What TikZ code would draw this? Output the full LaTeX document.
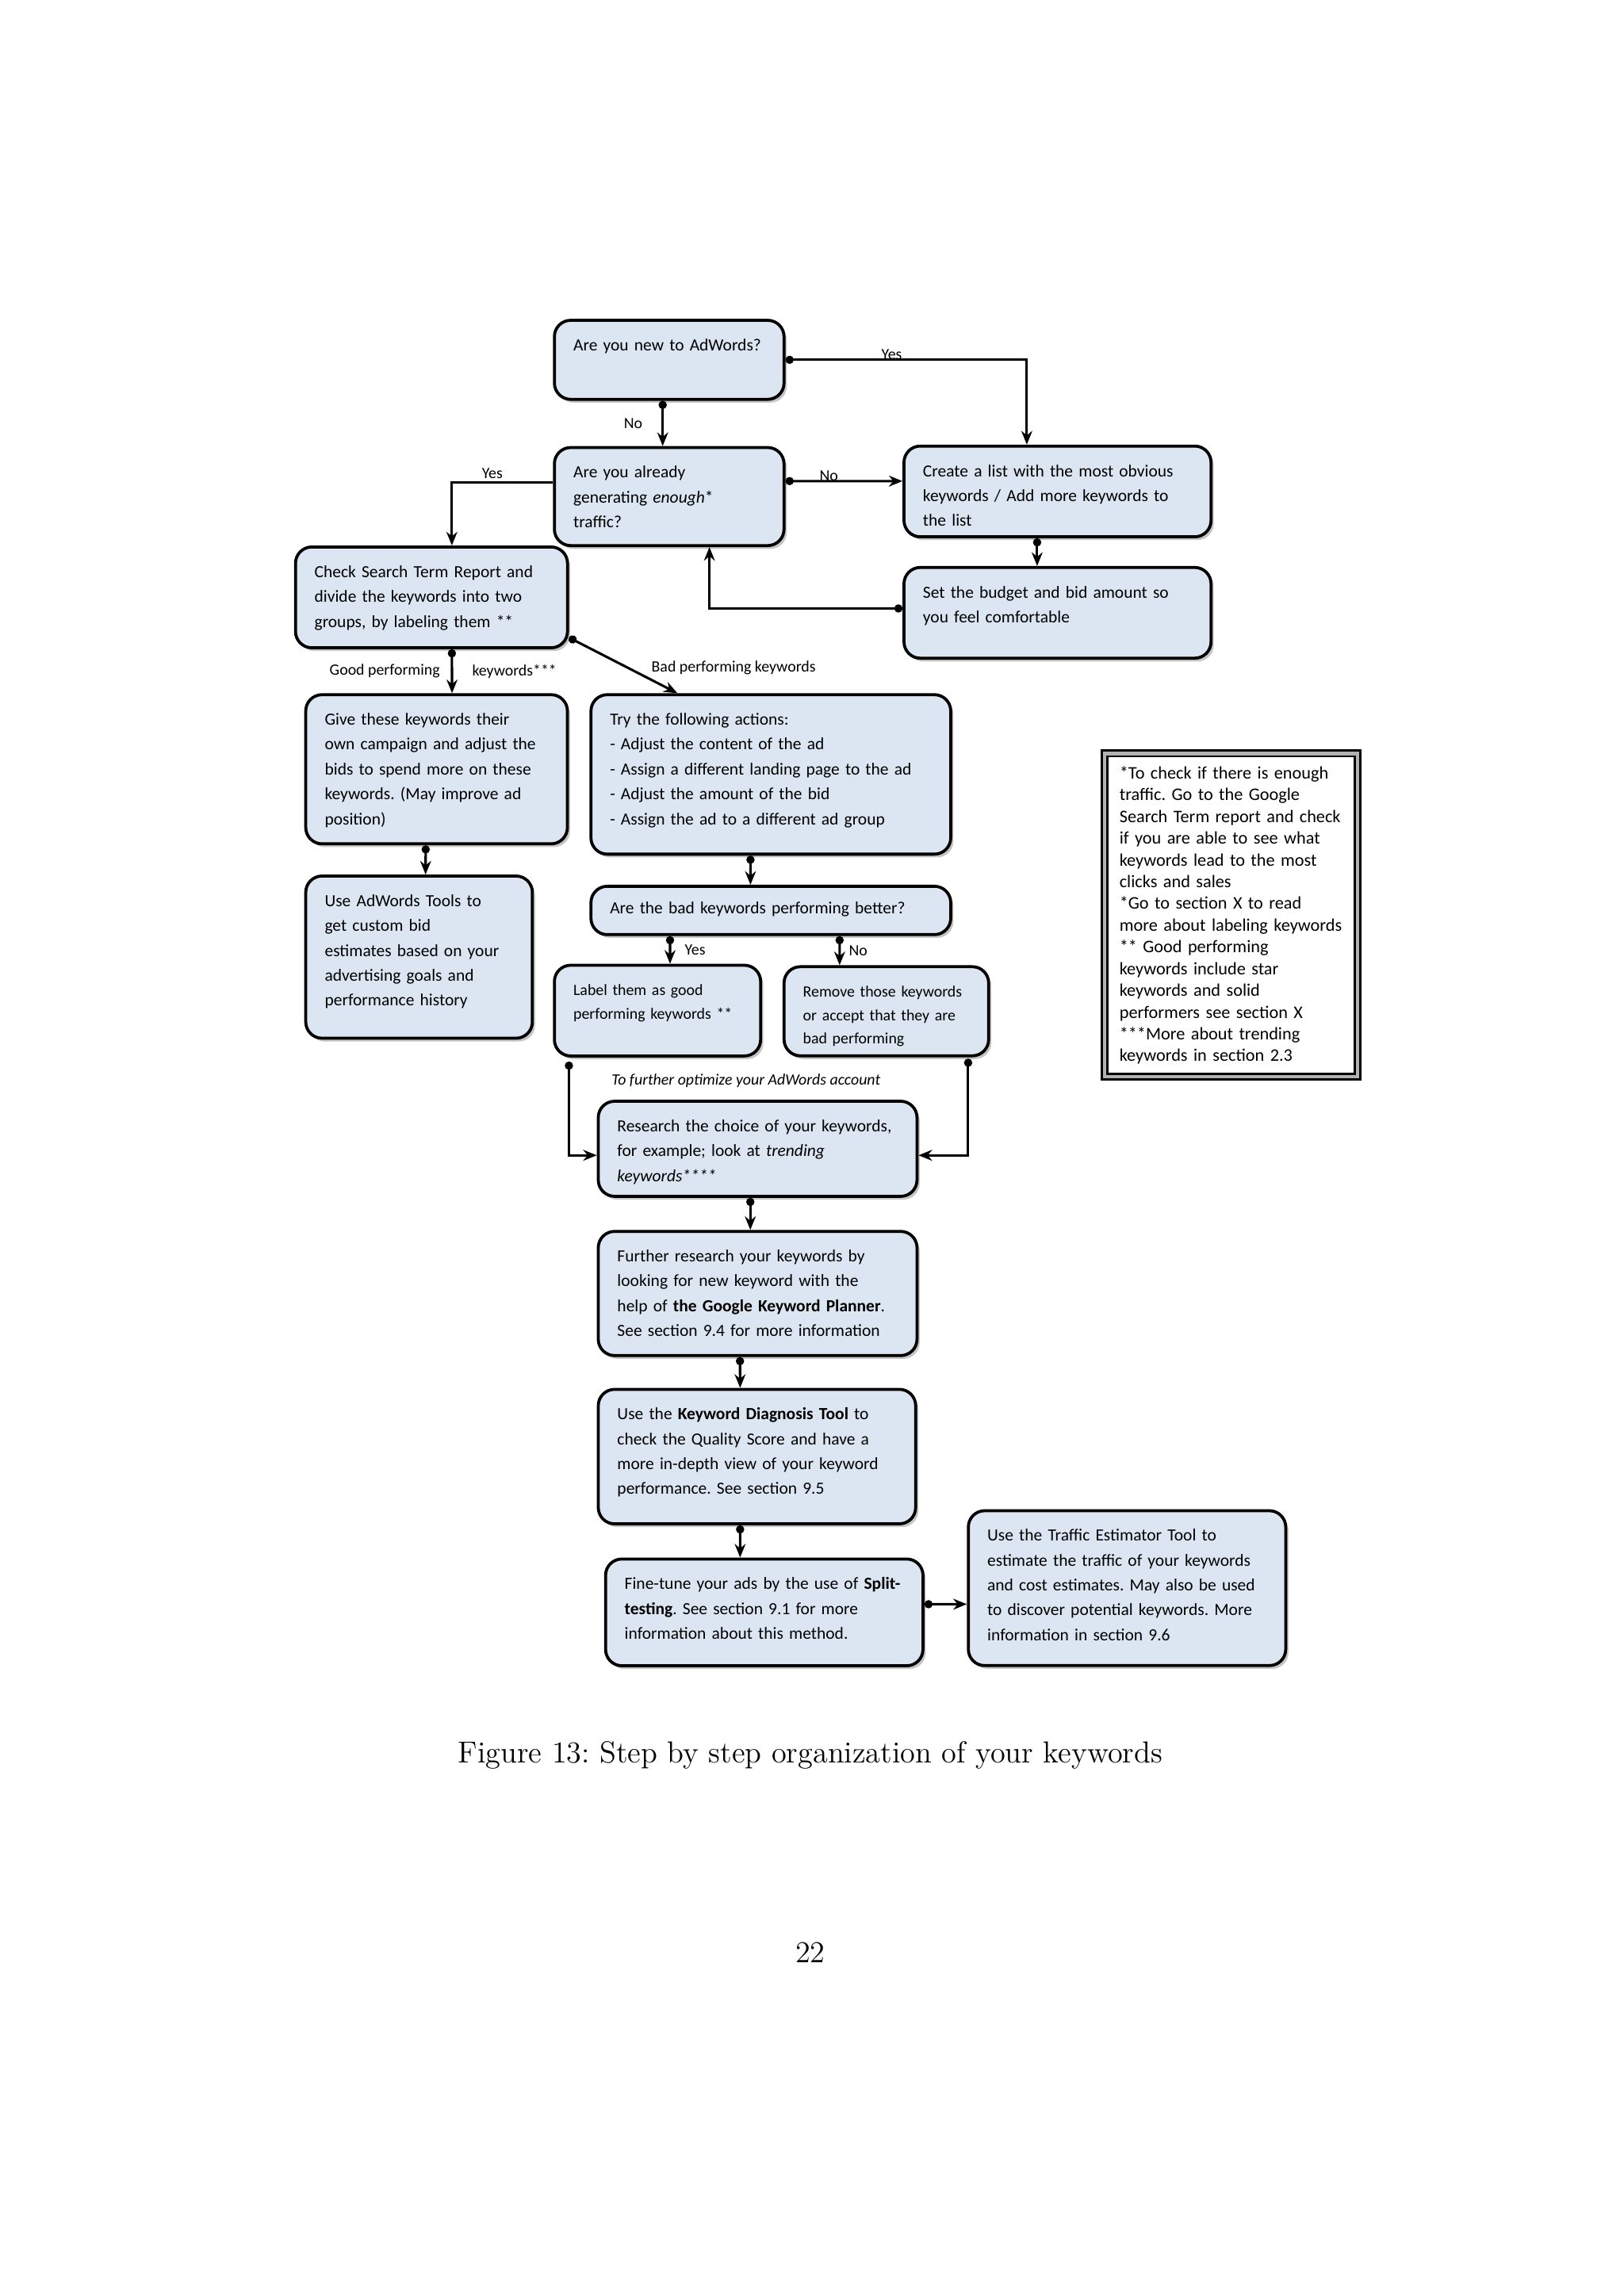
\documentclass[tikz,border=0pt]{standalone}
\usepackage{fontspec}
\newfontfamily\boxfont{Carlito}
\usepackage{xcolor}
\usepackage{tikz}
\usetikzlibrary{arrows.meta,shadows}
\definecolor{boxfill}{RGB}{220,230,242}
\frenchspacing
\hyphenpenalty=10000

\begin{document}
\begin{tikzpicture}[x=0.5383pt, y=-0.5383pt]
    \tikzset{stepbox/.style={draw, line width=1.1pt, rounded corners=6pt, fill=boxfill,
        drop shadow={shadow xshift=1pt, shadow yshift=-1.2pt, fill=black!45, opacity=0.5},
        anchor=north west, align=left, inner xsep=7pt, inner ysep=6pt, text height=5.2pt,
        font=\boxfont\fontsize{6.27}{9.15}\selectfont}}
    \tikzset{smallbox/.style={stepbox, font=\boxfont\fontsize{5.8}{8.6}\selectfont}}
    \tikzset{flow/.style={line width=0.9pt, {Circle[length=3pt]}-{Stealth[length=5pt,width=4pt]}}}
    \tikzset{lbl/.style={font=\boxfont\fontsize{5.8}{7}\selectfont, inner sep=1pt}}
    \path[use as bounding box, fill=white] (0,0) rectangle (1110,1570);

    \node[stepbox, text width=70.5pt, text depth=11.9pt] (new) at (378,218)
        {Are you new to AdWords?};
    \node[stepbox, text width=70.5pt, text depth=18.9pt] (enough) at (378,305)
        {Are you already\\ generating \textit{enough}*\\ traffic?};
    \node[stepbox, text width=99pt, text depth=16.2pt] (create) at (617,304)
        {Create a list with the most obvious\\ keywords / Add more keywords to\\ the list};
    \node[stepbox, text width=99pt, text depth=16.2pt] (budget) at (617,387)
        {Set the budget and bid amount so\\ you feel comfortable};
    \node[stepbox, text width=86.1pt, text depth=19.9pt] (check) at (201,373)
        {Check Search Term Report and\\ divide the keywords into two\\ groups, by labeling them **};
    \node[stepbox, text width=82.3pt, text depth=37.7pt] (good) at (208,474)
        {Give these keywords their\\ own campaign and adjust the\\ bids to spend more on these\\ keywords. (May improve ad\\ position)};
    \node[stepbox, text width=118.4pt, text depth=41.5pt] (try) at (403,474)
        {Try the following actions:\\ - Adjust the content of the ad\\ - Assign a different landing page to the ad\\ - Adjust the amount of the bid\\ - Assign the ad to a different ad group};
    \node[stepbox, text width=69.4pt, text depth=42.5pt] (tools) at (208,598)
        {Use AdWords Tools to\\ get custom bid\\ estimates based on your\\ advertising goals and\\ performance history};
    \node[stepbox, inner ysep=5pt, text width=118.4pt, text depth=2.6pt] (better) at (403,605)
        {Are the bad keywords performing better?};
    \node[smallbox, text width=61.9pt, text depth=16.2pt] (label) at (378,659)
        {Label them as good\\ performing keywords **};
    \node[smallbox, text width=61.3pt, text depth=15.6pt] (remove) at (535,660)
        {Remove those keywords\\ or accept that they are\\ bad performing};
    \node[stepbox, text width=103.3pt, text depth=17.8pt] (research) at (408,752)
        {Research the choice of your keywords,\\ for example; look at \textit{trending}\\ \textit{keywords****}};
    \node[stepbox, text width=103.3pt, text depth=28.5pt] (further) at (408,841)
        {Further research your keywords by\\ looking for new keyword with the\\ help of \textbf{the Google Keyword Planner}.\\ See section 9.4 for more information};
    \node[stepbox, text width=102.8pt, text depth=32.3pt] (diag) at (408,949)
        {Use the \textbf{Keyword Diagnosis Tool} to\\ check the Quality Score and have a\\ more in-depth view of your keyword\\ performance. See section 9.5};
    \node[stepbox, text width=102.8pt, text depth=22.1pt] (fine) at (413,1065)
        {Fine-tune your ads by the use of \textbf{Split-}\\ \textbf{testing}. See section 9.1 for more\\ information about this method.};
    \node[stepbox, text width=102.8pt, text depth=39.8pt] (traffic) at (661,1032)
        {Use the Traffic Estimator Tool to\\ estimate the traffic of your keywords\\ and cost estimates. May also be used\\ to discover potential keywords. More\\ information in section 9.6};

    \node[draw, line width=0.7pt, double=gray!60, double distance=1.4pt, anchor=north west,
        align=left, inner xsep=5.5pt, inner ysep=4.2pt, text height=5.2pt, text width=82.1pt,
        text depth=105.4pt, font=\boxfont\fontsize{6.5}{8}\selectfont] (note) at (754.5,514.5)
        {*To check if there is enough\\ traffic. Go to the Google\\ Search Term report and check\\ if you are able to see what\\ keywords lead to the most\\ clicks and sales\\ **Go to section X to read\\ more about labeling keywords\\ *** Good performing\\ keywords include star\\ keywords and solid\\ performers see section X\\ ****More about trending\\ keywords in section 2.3};

    \draw[flow] (new.east) -| ([xshift=-11.3pt]create.north)
        node[lbl, pos=0.22, above=-1.5pt] {Yes};
    \draw[flow] ([xshift=-2.4pt]new.south) -- ([xshift=-2.4pt]enough.north)
        node[lbl, midway, left=6pt] {No};
    \draw[flow] ([yshift=5.7pt]enough.east) -- ([yshift=3.8pt]create.west)
        node[lbl, pos=0.37, above=-1.5pt] {No};
    \draw[line width=0.9pt, -{Stealth[length=5pt,width=4pt]}] ([yshift=5.1pt]enough.west) -| ([xshift=7.5pt]check.north)
        node[lbl, pos=0.3, above] {Yes};
    \draw[flow] ([xshift=-7.5pt]create.south) -- ([xshift=-7.5pt]budget.north);
    \draw[flow] ([yshift=1.6pt]budget.west) -| ([xshift=14.8pt]enough.south);
    \draw[flow] ([xshift=7.5pt]check.south) -- ([xshift=5.7pt]good.north)
        node[lbl, midway, left=3pt] {Good performing}
        node[lbl, midway, right=6pt] {keywords***};
    \draw[flow] ([yshift=4.3pt]check.south east) -- ([xshift=-34.4pt]try.north)
        node[lbl, pos=0.55, right=7pt] {Bad performing keywords};
    \draw[flow] ([xshift=-4pt]good.south) -- ([xshift=2.4pt]tools.north);
    \draw[flow] ([xshift=-7.5pt]try.south) -- ([xshift=-7.5pt]better.north);
    \draw[flow] ([xshift=-37.1pt]better.south) -- ([xshift=4.6pt]label.north)
        node[lbl, midway, right=4pt] {Yes};
    \draw[flow] ([xshift=25.3pt]better.south) -- ([xshift=-17.2pt]remove.north)
        node[lbl, midway, right=2pt] {No};
    \draw[flow] ([xshift=5.9pt, yshift=-1.5pt]label.south west) |- ([yshift=-2.4pt]research.west);
    \draw[flow] ([xshift=-8.1pt, yshift=-0.5pt]remove.south east) |- ([yshift=-2.4pt]research.east);
    \node[lbl, font=\boxfont\fontsize{5.8}{7}\selectfont\itshape] (optimize) at (510,739)
        {To further optimize your AdWords account};
    \draw[flow] ([xshift=-2.7pt]research.south) -- ([xshift=-2.7pt]further.north);
    \draw[flow] ([xshift=-6.5pt]further.south) -- ([xshift=-6.2pt]diag.north);
    \draw[flow] ([xshift=-6.2pt]diag.south) -- ([xshift=-8.9pt]fine.north);
    \draw[flow] ([yshift=3pt]fine.east) -- ([yshift=-5.9pt]traffic.west);

    \node[font=\fontsize{11.17}{13}\selectfont] (caption) at (554,1200)
        {Figure 13: Step by step organization of your keywords};
    \node[font=\fontsize{11.17}{13}\selectfont] (page) at (554,1335) {22};
\end{tikzpicture}
\end{document}
